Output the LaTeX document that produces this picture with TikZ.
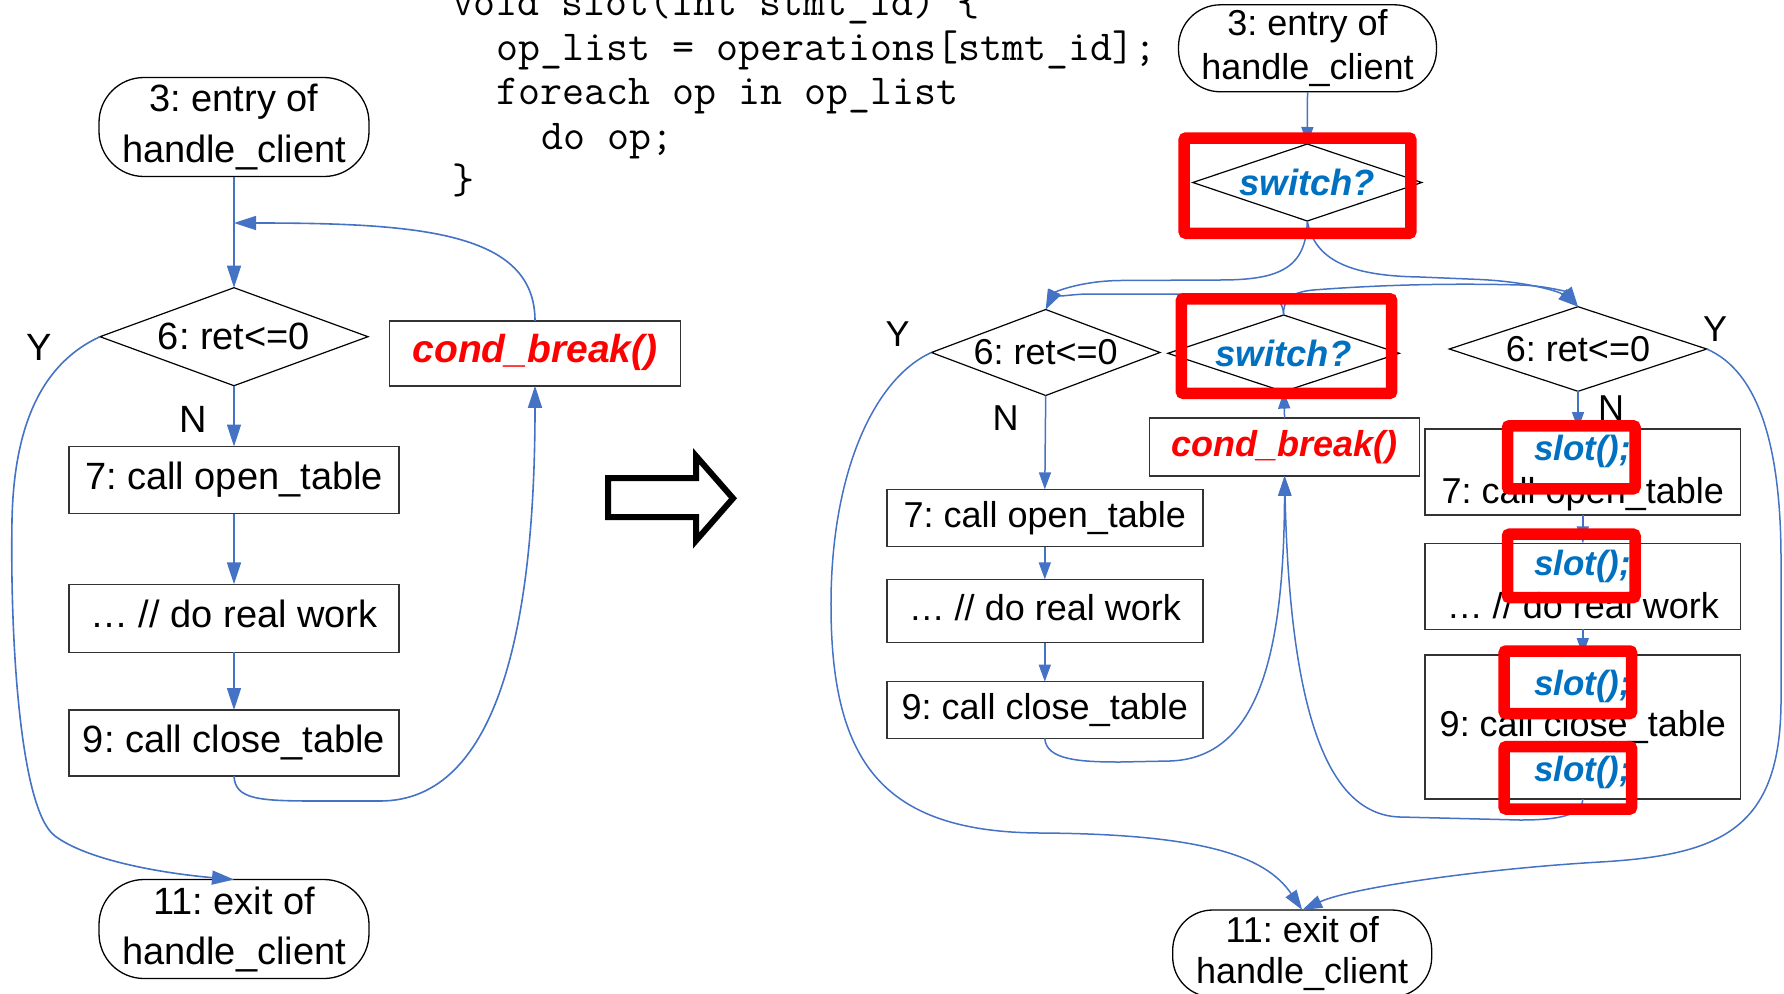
\documentclass[tikz,border=0pt]{standalone}
\usepackage{fontspec}
\setmainfont{Liberation Sans}
\usetikzlibrary{arrows.meta,shapes.geometric}
\definecolor{flow}{HTML}{4472C4}
\definecolor{callblue}{HTML}{0070C0}
\definecolor{hot}{HTML}{FF0000}
\frenchspacing
\begin{document}
\begin{tikzpicture}[x=1pt,y=-1pt,
  every node/.style={inner sep=0pt,outer sep=0pt},
  lfont/.style={font=\fontsize{38}{51}\selectfont},
  rfont/.style={font=\fontsize{36}{44}\selectfont},
  term/.style={draw=black,line width=1.3pt,align=center,rounded corners=#1},
  decision/.style={draw=black,line width=1.2pt,shape=diamond,shape aspect=2.8},
  proc/.style={draw=black!80,line width=1.6pt,text height=27pt,text depth=9pt},
  hotcall/.style={text=hot,font=\fontsize{#1}{#1}\selectfont\bfseries\itshape},
  bluecall/.style={text=callblue,font=\fontsize{#1}{#1}\selectfont\bfseries\itshape},
  codeline/.style={anchor=base west,font=\fontsize{42.7}{44}\selectfont\ttfamily},
  lflow/.style={draw=flow,line width=1.6pt,-{Triangle[length=22pt,width=14pt]}},
  rflow/.style={draw=flow,line width=1.5pt,-{Triangle[length=17pt,width=12pt]}},
  rcurve/.style={draw=flow,line width=1.5pt,-{Triangle[length=20pt,width=13pt]}},
  hilite/.style={draw=hot,line width=11.5pt,rounded corners=2pt},
]
\useasboundingbox (0,0) rectangle (1784,993);

% ---------- the slot() routine ----------
\node[codeline] (code1) at (452,16) {void slot(int stmt\_id) \{};
\node[codeline] (code2) at (496.8,60.5) {op\_list = operations[stmt\_id];};
\node[codeline] (code3) at (496.8,104.8) {foreach op in op\_list};
\node[codeline] (code4) at (541.6,149) {do op;};
\node[codeline] (code5) at (452,193.5) {\}};

% ---------- original control flow ----------
\node[term=45pt,lfont,minimum width=270pt,minimum height=99pt] (entryL) at (234,127) {3: entry of\\handle\_client};
\node[decision,lfont,minimum width=268pt,minimum height=98pt] (testL) at (234,336.7) {6: ret<=0};
\node[proc,hotcall=39,minimum width=291pt,minimum height=65pt] (brkL) at (535,353.3) {cond\_break()};
\node[proc,lfont,minimum width=330pt,minimum height=67pt] (openL) at (234,480) {7: call open\_table};
\node[proc,lfont,minimum width=330pt,minimum height=68pt] (workL) at (234,618.3) {… // do real work};
\node[proc,lfont,minimum width=330pt,minimum height=66pt] (closeL) at (234,743) {9: call close\_table};
\node[term=45pt,font=\fontsize{38}{50}\selectfont,minimum width=270pt,minimum height=99pt] (exitL) at (234,929) {11: exit of\\handle\_client};
\node[lfont] (yL) at (39,347.5) {Y};
\node[lfont] (nL) at (193,419) {N};
\coordinate (joinL) at (234,223);

\draw[lflow] (entryL.south) -- (testL.north);
\draw[lflow] (testL.south) -- (openL.north);
\draw[lflow] (openL.south) -- (workL.north);
\draw[lflow] (workL.south) -- (closeL.north);
\draw[lflow] (brkL.north) .. controls (535,232) and (420,223) .. (joinL);
\draw[lflow] (closeL.south) .. controls (235,800) and (260,801) .. (320,801) -- (380,801)
  .. controls (500,801) and (535,620) .. (brkL.south);
\draw[lflow] (testL.west) .. controls (45,362) and (14,420) .. (12,520)
  .. controls (10,640) and (20,810) .. (55,836)
  .. controls (90,862) and (170,874) .. (exitL.north);

% ---------- transformation arrow ----------
\draw[line width=6pt,miter limit=10] (608,478) -- (696,478) -- (696,456) -- (733,498.3)
  -- (696,540.6) -- (696,517) -- (608,517) -- cycle;

% ---------- instrumented control flow ----------
\node[term=42pt,font=\fontsize{36}{44.4}\selectfont,minimum width=258pt,minimum height=87pt] (entryR) at (1307.5,48.3) {3: entry of\\handle\_client};
\node[decision,bluecall=36.5,minimum width=229pt,minimum height=77pt] (swA) at (1307.3,182.5) {switch?};
\node[decision,rfont,minimum width=228.6pt,minimum height=86pt] (testM) at (1045.7,352.5) {6: ret<=0};
\node[decision,bluecall=36.5,minimum width=231.4pt,minimum height=76.6pt] (swB) at (1283.6,353.3) {switch?};
\node[decision,rfont,minimum width=257.4pt,minimum height=84.6pt] (testR) at (1578,349) {6: ret<=0};
\node[proc,hotcall=36,minimum width=270pt,minimum height=57.7pt] (brkR) at (1284.6,447) {cond\_break()};

\node[proc,rfont,minimum width=316pt,minimum height=57.3pt] (openM) at (1044.8,518) {7: call open\_table};
\node[proc,rfont,minimum width=316pt,minimum height=63.3pt] (workM) at (1044.8,611) {… // do real work};
\node[proc,rfont,minimum width=316pt,minimum height=56.7pt] (closeM) at (1044.8,710) {9: call close\_table};

\node[proc,minimum width=315.7pt,minimum height=86pt] (openR) at (1582.8,472) {};
\node[rfont,anchor=base] (openRt) at (1582.8,503.3) {7: call open\_table};
\node[proc,minimum width=315.7pt,minimum height=86pt] (workR) at (1582.8,586.3) {};
\node[rfont,anchor=base] (workRt) at (1582.8,618.3) {… // do real work};
\node[proc,minimum width=315.7pt,minimum height=144pt] (closeR) at (1582.8,727) {};
\node[rfont,anchor=base] (closeRt) at (1582.8,736.7) {9: call close\_table};

\node[bluecall=35,anchor=base west] (slotA) at (1534,460) {slot();};
\node[bluecall=35,anchor=base west] (slotB) at (1534,575) {slot();};
\node[bluecall=35,anchor=base west] (slotC) at (1534,695) {slot();};
\node[bluecall=35,anchor=base west] (slotD) at (1534,781.7) {slot();};

\node[term=40pt,font=\fontsize{36}{41.6}\selectfont,minimum width=259pt,minimum height=87pt] (exitR) at (1302.2,953.5) {11: exit of\\handle\_client};

\node[rfont] (yM) at (897.5,334) {Y};
\node[rfont] (nM) at (1005.6,418) {N};
\node[rfont] (yR) at (1715,329) {Y};
\node[rfont] (nR) at (1611,408) {N};

\draw[rflow] (entryR.south) -- (swA.north);
\draw[rcurve] (swA.south) .. controls (1306,268) and (1280,280) .. (1220,280) -- (1120,280.5)
  .. controls (1080,281) and (1055,292) .. (testM.north);
\draw[rcurve] (swA.south) .. controls (1315,265) and (1360,276) .. (1420,277) -- (1480,279.5)
  .. controls (1530,282) and (1560,292) .. (testR.north);
\draw[rcurve] (swB.north) .. controls (1283,300) and (1275,294) .. (1250,294) -- (1090,294)
  .. controls (1066,294) and (1050,300) .. (testM.north);
\draw[rcurve] (swB.north) .. controls (1283,298) and (1292,291) .. (1320,289.5)
  .. controls (1380,285) and (1450,283) .. (1520,285)
  .. controls (1550,286) and (1568,293) .. (testR.north);
\draw[rflow] (brkR.north) -- (swB.south);

\draw[rflow] (testM.south) -- (openM.north);
\draw[rflow] (openM.south) -- (workM.north);
\draw[rflow] (workM.south) -- (closeM.north);
\draw[rcurve] (closeM.south) .. controls (1046,760) and (1080,762) .. (1120,762) -- (1170,761)
  .. controls (1260,758) and (1284,650) .. (brkR.south);
\draw[rcurve] (closeR.south) .. controls (1582,815) and (1560,820) .. (1520,820) -- (1400,817)
  .. controls (1330,815) and (1290,720) .. (brkR.south);

\draw[rflow] (testR.south) -- (testR.south |- openR.north);
\draw[rflow] (openR.south) -- (workR.north);
\draw[rflow] (workR.south) -- (closeR.north);

\draw[rcurve] (testM.west) .. controls (875,378) and (832,470) .. (831,600)
  .. controls (830,760) and (880,832) .. (1040,833)
  .. controls (1200,834) and (1265,855) .. (exitR.north);
\draw[rcurve] (testR.east) .. controls (1760,372) and (1781,450) .. (1781,560) -- (1781,700)
  .. controls (1781,830) and (1720,855) .. (1600,862)
  .. controls (1480,869) and (1350,888) .. (exitR.north);

% ---------- highlighted instrumentation ----------
\draw[hilite] (1184.2,138) rectangle (1410.8,233.3);
\draw[hilite] (1181.4,298.8) rectangle (1391.6,393.3);
\draw[hilite] (1507.5,425.8) rectangle (1635,488.8);
\draw[hilite] (1507.5,534.2) rectangle (1635,597.5);
\draw[hilite] (1504.2,651) rectangle (1631.5,713.5);
\draw[hilite] (1504.2,746.7) rectangle (1631.5,809);
\end{tikzpicture}
\end{document}
